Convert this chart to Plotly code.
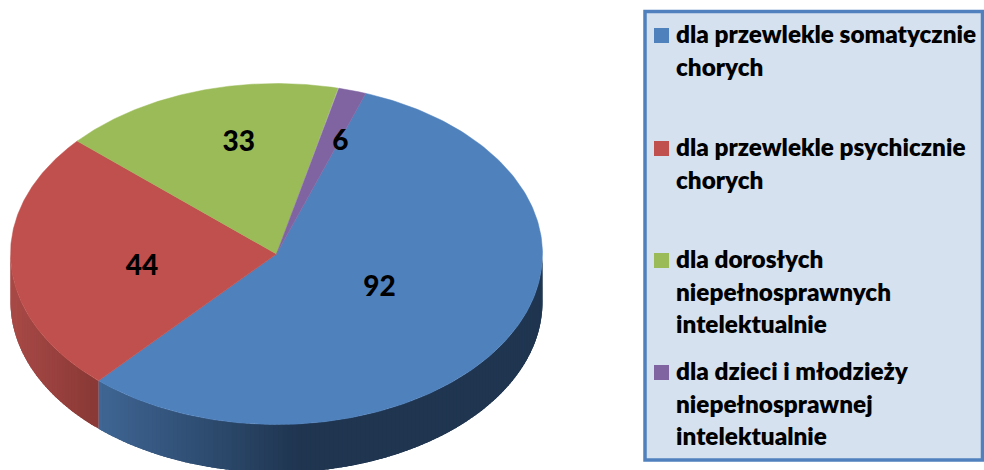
import numpy as np
import plotly.graph_objects as go

categories = [
    ["dla przewlekle somatycznie", "chorych"],
    ["dla przewlekle psychicznie", "chorych"],
    ["dla dorosłych", "niepełnosprawnych", "intelektualnie"],
    ["dla dzieci i młodzieży", "niepełnosprawnej", "intelektualnie"],
]
values = [92, 44, 33, 6]
colors = ["#4F81BD", "#C0504D", "#9BBB59", "#8064A2"]
wall_light = ["#3F6694", "#A94A47", "#7F9A48", "#6A5386"]
wall_dark = ["#1F3550", "#8A3936", "#657B39", "#54426C"]

# projection of the tilted disc, in canvas pixels
CX, CY, RX, RY, DEPTH = 276.5, 254, 266, 170.5, 48
START = 19.6
label_radius = [0.43, 0.51, 0.68, 0.71]
label_turn = [-5, -4, 5.5, 3.3]
LABEL_DROP = 3
legend_y0 = [33.5, 146.5, 258.5, 370.5]
LINE_H = 32.5


def warp(theta):
    """Perspective foreshortening of a clockwise-from-top angle, in degrees."""
    r = np.radians(theta)
    return START + theta + 8.87 * (1 - np.cos(r)) - 14.18 * np.sin(2 * r)


def ell(a):
    r = np.radians(a)
    return CX + RX * np.sin(r), CY - RY * np.cos(r)


def mix(c1, c2, t):
    a = [int(c1[i:i + 2], 16) for i in (1, 3, 5)]
    b = [int(c2[i:i + 2], 16) for i in (1, 3, 5)]
    return "rgb(%d,%d,%d)" % tuple(round(p + (q - p) * t) for p, q in zip(a, b))


fig = go.Figure()
cum = np.concatenate([[0], np.cumsum(values)]) / sum(values) * 360

# side wall, drawn as narrow overlapping strips so that it shades with x
for i in range(len(values)):
    a0, a1 = warp(cum[i]), warp(cum[i + 1])
    lo, hi = max(a0, 90), min(a1, 270)
    if hi <= lo:
        continue
    n = max(2, int((hi - lo) / 1.0))
    edges = np.linspace(lo, hi, n + 1)
    order = range(n) if i == 0 else range(n - 1, -1, -1)
    for k in order:
        e0, e1 = edges[k], edges[k + 1]
        seg = np.linspace(e0, min(hi, e1 + (e1 - e0) * 1.5), 5)
        x, y = ell(seg)
        xm = ell((e0 + e1) / 2)[0]
        t = np.clip((xm - 99) / 200, 0, 1) if i == 0 else np.clip((xm - 11) / 88, 0, 1)
        col = mix(wall_light[i], wall_dark[i], t)
        fig.add_trace(go.Scatter(
            x=np.concatenate([x, x[::-1]]),
            y=np.concatenate([y, y[::-1] + DEPTH]),
            mode="lines", fill="toself", fillcolor=col,
            line=dict(color=col, width=0), hoverinfo="skip", showlegend=False))

# top face
for i in range(len(values)):
    a = np.linspace(warp(cum[i]), warp(cum[i + 1]), 200)
    x, y = ell(a)
    fig.add_trace(go.Scatter(
        x=np.concatenate([[CX], x, [CX]]), y=np.concatenate([[CY], y, [CY]]),
        mode="lines", fill="toself", fillcolor=colors[i],
        line=dict(color=colors[i], width=0.5), hoverinfo="skip", showlegend=False))

# value labels
mid = [(warp(cum[i]) + warp(cum[i + 1])) / 2 + label_turn[i] for i in range(len(values))]
lx = [CX + label_radius[i] * RX * np.sin(np.radians(mid[i])) for i in range(len(values))]
ly = [CY - label_radius[i] * RY * np.cos(np.radians(mid[i])) + LABEL_DROP for i in range(len(values))]
fig.add_trace(go.Scatter(
    x=lx, y=ly, mode="text", text=[str(v) for v in values],
    textfont=dict(family="Lato", size=28, color="black", weight=900), textposition="middle center",
    hoverinfo="skip", showlegend=False))

# legend
shapes = [dict(type="rect", x0=645, x1=982.5, y0=11.5, y1=460, layer="below",
               fillcolor="#D5E1EF", line=dict(color="#5081BE", width=3.5))]
annotations = []
for i, lines in enumerate(categories):
    fig.add_trace(go.Scatter(
        x=[661.5], y=[legend_y0[i] + 2], mode="markers",
        marker=dict(symbol="square", size=15, color=colors[i]),
        hoverinfo="skip", showlegend=False))
    for j, t in enumerate(lines):
        annotations.append(dict(
            x=676, y=legend_y0[i] + j * LINE_H, text=t, showarrow=False,
            xanchor="left", yanchor="middle", xshift=-2,
            font=dict(family="Lato", size=24.3, color="black", weight=800)))

fig.update_layout(
    width=984, height=470, margin=dict(l=0, r=0, t=0, b=0),
    paper_bgcolor="white", plot_bgcolor="white", showlegend=False,
    xaxis=dict(range=[0, 984], visible=False, fixedrange=True),
    yaxis=dict(range=[470, 0], visible=False, fixedrange=True),
    shapes=shapes, annotations=annotations)
fig.write_html("out.html", config={"displayModeBar": False},
               post_script="document.body.style.margin='0';document.documentElement.style.overflow='hidden';")
